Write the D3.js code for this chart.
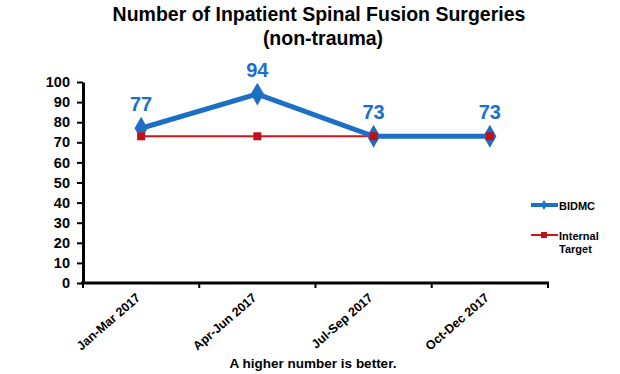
<!DOCTYPE html>
<meta charset="utf-8">
<style>
  body { margin: 0; background: #fff; }
  text { font-family: Arial, "Liberation Sans", sans-serif; font-weight: bold; }
</style>
<script src="https://d3js.org/d3.v7.min.js"></script>
<div id="chart"></div>
<script>

// data
var quarters = ["Jan-Mar 2017", "Apr-Jun 2017", "Jul-Sep 2017", "Oct-Dec 2017"];
var bidmc = [77, 94, 73, 73];
var target = [73, 73, 73, 73];
var yTicks = [0, 10, 20, 30, 40, 50, 60, 70, 80, 90, 100];

var W = 620, H = 374;
var pLeft = 83, pRight = 548, pTop = 82, pBottom = 283;

var svg = d3.select("#chart").append("svg")
    .attr("width", W).attr("height", H);

// title
svg.append("text").attr("x", 319).attr("y", 21)
    .attr("text-anchor", "middle").style("font-size", "19.5px")
    .text("Number of Inpatient Spinal Fusion Surgeries");
svg.append("text").attr("x", 323).attr("y", 45)
    .attr("text-anchor", "middle").style("font-size", "19.5px")
    .text("(non-trauma)");

var x = d3.scaleBand().domain(quarters).range([pLeft, pRight]);
var y = d3.scaleLinear().domain([0, 100]).range([pBottom, pTop]);

// y axis
var yAxis = svg.append("g")
    .attr("transform", "translate(" + pLeft + ",0)")
    .call(d3.axisLeft(y).tickValues(yTicks).tickSize(6).tickPadding(7).tickSizeOuter(0));
yAxis.select(".domain").attr("stroke-width", 3);
yAxis.selectAll(".tick line").attr("stroke-width", 2);
yAxis.selectAll(".tick text").style("font-size", "14.5px").attr("fill", "#000");

// x axis with ticks on band boundaries
var xAxis = svg.append("g").attr("transform", "translate(0," + pBottom + ")");
xAxis.append("line").attr("x1", pLeft - 2).attr("x2", pRight + 1)
    .attr("stroke", "#000").attr("stroke-width", 3);
xAxis.selectAll(".bt").data(quarters.concat(["end"])).join("line")
    .attr("x1", function (d, i) { return pLeft + i * x.bandwidth(); })
    .attr("x2", function (d, i) { return pLeft + i * x.bandwidth(); })
    .attr("y1", 0).attr("y2", 5)
    .attr("stroke", "#000").attr("stroke-width", 2);
xAxis.selectAll(".lab").data(quarters).join("text")
    .attr("transform", function (d) {
      return "translate(" + (x(d) + x.bandwidth() / 2) + ",16) rotate(-41)";
    })
    .attr("text-anchor", "end")
    .style("font-size", "12.5px")
    .text(function (d) { return d; });

var cx = function (d, i) { return x(quarters[i]) + x.bandwidth() / 2; };

// target line
svg.append("path").datum(target)
    .attr("fill", "none").attr("stroke", "#d0141c").attr("stroke-width", 2)
    .attr("d", d3.line().x(cx).y(function (d) { return y(d); }));

// BIDMC line
svg.append("path").datum(bidmc)
    .attr("fill", "none").attr("stroke", "#1c6fc4").attr("stroke-width", 5)
    .attr("d", d3.line().x(cx).y(function (d) { return y(d); }));
svg.selectAll(".dia").data(bidmc).join("path")
    .attr("d", d3.symbol().type(d3.symbolDiamond).size(150))
    .attr("transform", function (d, i) { return "translate(" + cx(d, i) + "," + y(d) + ")"; })
    .attr("fill", "#1c6fc4");

// target markers on top
svg.selectAll(".sq").data(target).join("rect")
    .attr("x", function (d, i) { return cx(d, i) - 4; })
    .attr("y", function (d) { return y(d) - 4; })
    .attr("width", 8).attr("height", 8)
    .attr("fill", "#c0101a");

// value labels
svg.selectAll(".vl").data(bidmc).join("text")
    .attr("x", cx)
    .attr("y", function (d) { return y(d) - 17; })
    .attr("text-anchor", "middle")
    .style("font-size", "20px").attr("fill", "#1c6fd0")
    .text(function (d) { return d; });

// legend
var lg = svg.append("g");
lg.append("line").attr("x1", 531).attr("x2", 558).attr("y1", 205).attr("y2", 205)
    .attr("stroke", "#1c6fc4").attr("stroke-width", 4);
lg.append("path").attr("d", d3.symbol().type(d3.symbolDiamond).size(30))
    .attr("transform", "translate(544,205)").attr("fill", "#1c6fc4");
lg.append("text").attr("x", 559).attr("y", 210).style("font-size", "11px").text("BIDMC");
lg.append("line").attr("x1", 531).attr("x2", 558).attr("y1", 235).attr("y2", 235)
    .attr("stroke", "#d0141c").attr("stroke-width", 2);
lg.append("rect").attr("x", 541).attr("y", 232).attr("width", 6).attr("height", 6).attr("fill", "#c0101a");
lg.append("text").attr("x", 559).attr("y", 240).style("font-size", "11px").text("Internal");
lg.append("text").attr("x", 559).attr("y", 253).style("font-size", "11px").text("Target");

// note
svg.append("text").attr("x", 313).attr("y", 368)
    .attr("text-anchor", "middle").style("font-size", "13.5px")
    .text("A higher number is better.");

</script>
